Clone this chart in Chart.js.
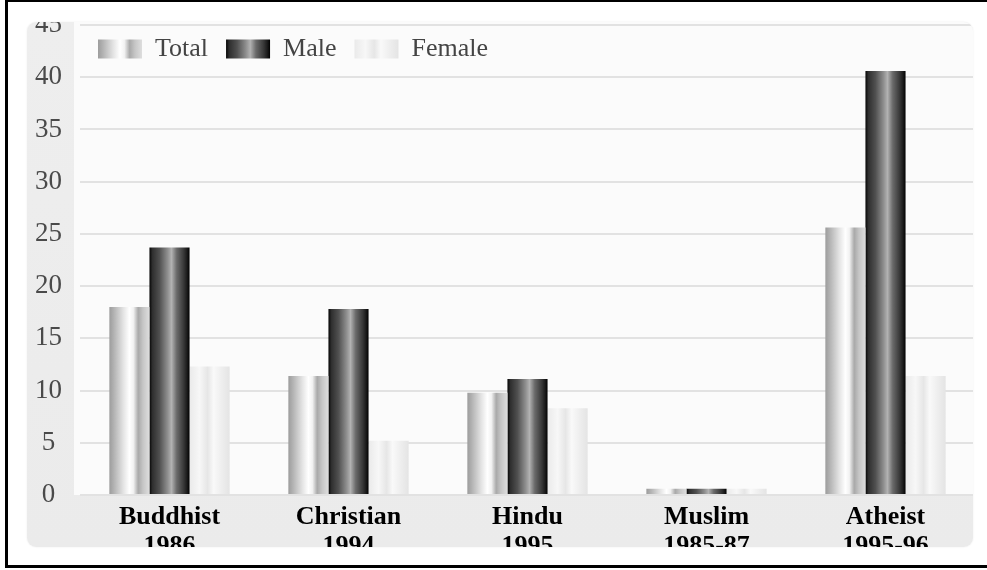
<!DOCTYPE html>
<html>
<head>
<meta charset="utf-8">
<script src="https://cdn.jsdelivr.net/npm/chart.js@4/dist/chart.umd.min.js"></script>
<style>
  html, body { margin: 0; padding: 0; background: #ffffff; }
  body { width: 987px; height: 570px; position: relative; overflow: hidden; }
  #frame {
    position: absolute; left: 5px; top: 0; width: 990px; height: 563px;
    border-left: 3px solid #000; border-top: 2px solid #000; border-bottom: 3px solid #000;
    box-sizing: content-box;
  }
  #panel {
    position: absolute; left: 27px; top: 22px; width: 946px; height: 525px;
    border-radius: 9px; overflow: hidden;
    background: linear-gradient(to bottom, #eeeeee 0%, #ebebeb 100%);
    box-shadow: 0 0 2px rgba(0,0,0,0.08);
  }
  #wrap { position: absolute; left: 0; top: 0; width: 952px; height: 560px; }
</style>
</head>
<body>
<div id="frame"></div>
<div id="panel"><div id="wrap"><canvas id="c" width="952" height="560"></canvas></div></div>
<script>
// ---- data ----
const categories = [
  ['Buddhist', '1986'],
  ['Christian', '1994'],
  ['Hindu', '1995'],
  ['Muslim', '1985-87'],
  ['Atheist', '1995-96']
];
const seriesNames = ['Total', 'Male', 'Female'];
const totalValues  = [18.0, 11.4, 9.8, 0.6, 25.6];
const maleValues   = [23.7, 17.8, 11.1, 0.6, 40.6];
const femaleValues = [12.3, 5.2, 8.3, 0.6, 11.4];
const yTicks = [0, 5, 10, 15, 20, 25, 30, 35, 40, 45];

// ---- styles ----
const CAT_PCT = 0.672;
const stopsTotal = [[0,'#9c9c9c'],[0.12,'#b4b4b4'],[0.35,'#e4e4e4'],[0.5,'#ffffff'],[0.6,'#f2f2f2'],[0.72,'#a9a9a9'],[0.84,'#c6c6c6'],[1,'#dedede']];
const stopsMale  = [[0,'#050505'],[0.07,'#2e2e2e'],[0.25,'#505050'],[0.45,'#8e8e8e'],[0.55,'#b2b2b2'],[0.68,'#6a6a6a'],[0.86,'#363636'],[0.94,'#1a1a1a'],[1,'#000000']];
const stopsFemale= [[0,'#eaeaea'],[0.25,'#f7f7f7'],[0.45,'#e6e6e6'],[0.6,'#f9f9f9'],[0.8,'#eeeeee'],[1,'#e4e4e4']];
const allStops = [stopsTotal, stopsMale, stopsFemale];
const fallback = ['#c8c8c8', '#555555', '#eeeeee'];

function makeGrad(ctx2d, left, width, stops) {
  const g = ctx2d.createLinearGradient(left, 0, left + width, 0);
  stops.forEach(s => g.addColorStop(s[0], s[1]));
  return g;
}

function barColor(dsIdx) {
  return function(ctx) {
    if (ctx.type !== 'data') return fallback[dsIdx];
    const chart = ctx.chart, xs = chart.scales.x, area = chart.chartArea;
    if (!xs || !area) return fallback[dsIdx];
    const catW = (area.right - area.left) / categories.length;
    const barW = catW * CAT_PCT / 3;
    const center = xs.getPixelForValue(ctx.dataIndex);
    const left = center + (dsIdx - 1.5) * barW;
    return makeGrad(chart.ctx, left, barW, allStops[dsIdx]);
  };
}

const serif = "'Liberation Serif', 'DejaVu Serif', serif";

const layoutPlugin = {
  id: 'layoutTweaks',
  afterInit(chart) {
    const L = chart.legend;
    if (L && !L._patched) {
      const origFit = L.fit.bind(L);
      L.fit = function() { origFit(); this._realHeight = this.height; this.height = 0; };
      L._patched = true;
    }
  },
  afterLayout(chart) {
    const L = chart.legend;
    if (L && L._realHeight) {
      L.top = -4;
      L.height = L._realHeight;
      L.bottom = L.top + L._realHeight;
    }
  },
  beforeDraw(chart) {
    const c = chart.ctx, a = chart.chartArea;
    c.save();
    c.fillStyle = '#fbfbfb';
    c.fillRect(a.left - 6, 0, a.right - a.left + 12, a.bottom);
    c.restore();
    const L = chart.legend;
    if (L && L.legendItems && L.legendHitBoxes) {
      const bw = L.options.labels.boxWidth;
      L.legendItems.forEach((it, i) => {
        const hb = L.legendHitBoxes[i];
        if (hb) it.fillStyle = makeGrad(c, hb.left, bw, allStops[i]);
      });
    }
  }
};

new Chart(document.getElementById('c'), {
  type: 'bar',
  data: {
    labels: categories,
    datasets: [
      { label: seriesNames[0], data: totalValues,  backgroundColor: barColor(0) },
      { label: seriesNames[1], data: maleValues,   backgroundColor: barColor(1) },
      { label: seriesNames[2], data: femaleValues, backgroundColor: barColor(2) }
    ]
  },
  options: {
    responsive: false,
    animation: false,
    devicePixelRatio: 1,
    layout: { padding: { top: 3, right: 4, left: 0, bottom: 0 } },
    datasets: { bar: { categoryPercentage: CAT_PCT, barPercentage: 1.0, borderWidth: 0 } },
    plugins: {
      legend: {
        position: 'top',
        align: 'start',
        fullSize: false,
        labels: {
          boxWidth: 44, boxHeight: 19, padding: 18,
          color: '#444444',
          font: { family: serif, size: 26 }
        }
      },
      tooltip: { enabled: false }
    },
    scales: {
      x: {
        grid: { display: false, drawTicks: false },
        border: { display: false },
        ticks: {
          color: '#000000', padding: 8,
          font: { family: serif, size: 26, weight: 'bold', lineHeight: 1.12 },
          maxRotation: 0, autoSkip: false
        },
        afterFit(scale) { scale.height = 87; scale.paddingLeft = 0; scale.paddingRight = 0; }
      },
      y: {
        min: 0, max: 45,
        afterBuildTicks(scale) { scale.ticks = yTicks.map(v => ({ value: v })); },
        grid: { color: '#e2e2e2', lineWidth: 2, drawTicks: false },
        border: { display: false },
        ticks: {
          color: '#4a4a4a', padding: 18, crossAlign: 'center',
          font: { family: serif, size: 27 }
        },
        afterFit(scale) { scale.width = 53; scale.paddingTop = 0; scale.paddingBottom = 0; }
      }
    }
  },
  plugins: [layoutPlugin]
});
</script>
</body>
</html>
